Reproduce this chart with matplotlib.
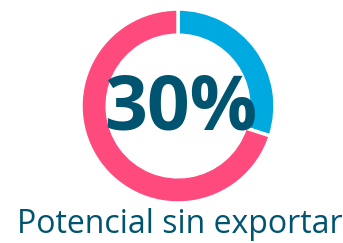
import matplotlib.pyplot as plt

labels = ["Exportado", "Sin exportar"]
values = [30, 70]
colors = ["#00a9e0", "#ff4a7d"]
center_text = "30%"
title = "Potencial sin exportar"

plt.rcParams["font.family"] = ["Open Sans", "DejaVu Sans"]

fig = plt.figure(figsize=(3.43, 2.43), dpi=100)
ax = fig.add_axes([(178 - 97) / 343, 1 - (106 + 97) / 243, 194 / 343, 194 / 243])
ax.pie(values, colors=colors, startangle=90, counterclock=False,
       wedgeprops=dict(width=0.27, edgecolor="white", linewidth=2.5))
ax.set_xlim(-1, 1)
ax.set_ylim(-1, 1)
ax.set_aspect("equal")
ax.text(0.03, -0.04, center_text, ha="center", va="center", fontsize=54,
        fontweight="bold", color="#00546f")
fig.text(180 / 343, 1 - 224 / 243, title, ha="center", va="center",
         fontsize=23, color="#00546f")
fig.savefig("out.png", dpi=100)
